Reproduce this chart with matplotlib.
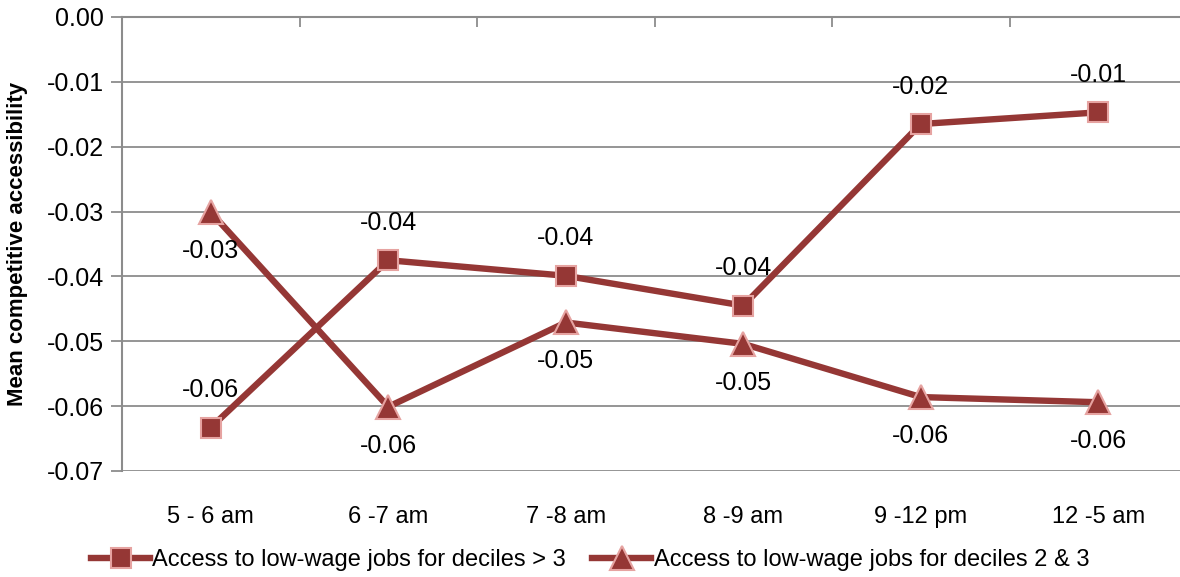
import numpy as np
import matplotlib
matplotlib.use("Agg")
import matplotlib.pyplot as plt
from matplotlib.ticker import FixedLocator

plt.rcParams['font.family'] = ['Liberation Sans', 'DejaVu Sans']

# data
time_slots = ["5 - 6 am", "6 -7 am", "7 -8 am", "8 -9 am", "9 -12 pm", "12 -5 am"]
deciles_gt3 = [-0.0633, -0.0375, -0.0399, -0.0445, -0.0165, -0.0147]
deciles_2_3 = [-0.0301, -0.0601, -0.0471, -0.0504, -0.0586, -0.0594]
series_names = ["Access to low-wage jobs for deciles > 3",
                "Access to low-wage jobs for deciles 2 & 3"]
y_ticks = [0.00, -0.01, -0.02, -0.03, -0.04, -0.05, -0.06, -0.07]

line_col = '#953735'
edge_col = '#E6A3A1'
grid_col = '#8C8C8C'

W, H = 1180, 577
fig = plt.figure(figsize=(W / 100, H / 100), dpi=100)
ax = fig.add_axes([122 / W, 1 - 471 / H, (1187 - 122) / W, (471 - 17) / H])

x = np.arange(len(time_slots))
ax.plot(x, deciles_gt3, color=line_col, lw=4.6, marker='s', ms=15,
        mfc=line_col, mec=edge_col, mew=1.5, label=series_names[0], zorder=3)
ax.plot(x, deciles_2_3, color=line_col, lw=4.6, marker='^', ms=17,
        mfc=line_col, mec=edge_col, mew=1.5, label=series_names[1], zorder=3)

# data labels: squares above, triangles below
for xi, v in zip(x, deciles_gt3):
    ax.annotate("%.2f" % v, (xi, v), xytext=(0, 27), textcoords='offset points',
                ha='center', va='center', fontsize=18)
for xi, v in zip(x, deciles_2_3):
    ax.annotate("%.2f" % v, (xi, v), xytext=(0, -28), textcoords='offset points',
                ha='center', va='center', fontsize=18)

ax.set_xlim(-0.5, len(time_slots) - 0.5)
ax.set_ylim(-0.07, 0.0)
ax.set_yticks(y_ticks)
ax.set_yticklabels(["%.2f" % t for t in y_ticks], fontsize=18)
ax.yaxis.grid(True, color=grid_col, lw=1.3)
ax.set_axisbelow(True)

ax.set_xticks(x)
ax.set_xticklabels(time_slots, fontsize=17)
ax.xaxis.set_minor_locator(FixedLocator(np.arange(0.5, len(time_slots) - 0.5, 1)))
ax.tick_params(axis='x', which='major', bottom=False, top=False, pad=22)
ax.tick_params(axis='x', which='minor', bottom=False, top=True, direction='in',
               length=7, width=1.3, color=grid_col)
ax.tick_params(axis='y', which='major', length=8, width=1.3, color=grid_col, pad=5)

for s in ['right', 'bottom']:
    ax.spines[s].set_visible(False)
for s in ['left', 'top']:
    ax.spines[s].set_color(grid_col)
    ax.spines[s].set_linewidth(1.5)

ax.set_ylabel("Mean competitive accessibility", fontsize=16, fontweight='bold')
ax.yaxis.set_label_coords(-94 / (1187 - 122), 0.5)

fig.legend(loc='center', bbox_to_anchor=(590 / W, 1 - 560 / H), ncol=2,
           frameon=False, fontsize=17, handlelength=2.5, columnspacing=1.1,
           handletextpad=0.1)

fig.savefig("out.png", dpi=100)
